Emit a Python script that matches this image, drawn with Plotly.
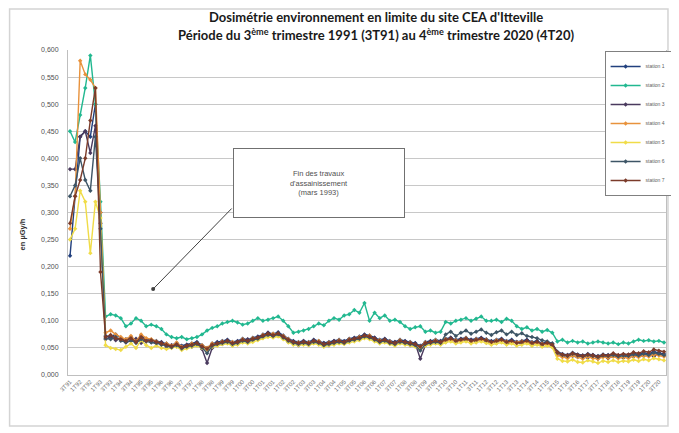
import plotly.graph_objects as go

# quarters 3T91 .. 4T20
quarters = ["3T91", "4T91"] + [f"{q}T{y % 100:02d}" for y in range(1992, 2021) for q in range(1, 5)]

station_names = ["station 1", "station 2", "station 3", "station 4", "station 5", "station 6", "station 7"]
station_colors = ["#22407E", "#22B890", "#4A3A5E", "#E8923C", "#F0DC48", "#3D5566", "#7B3B2A"]

station_1 = [.22, .33, .44, .45, .44, .50, .30,
             .072, .070, .075, .068, .066, .070, .064, .072, .066, .065,
             .063, .060, .058, .055, .059, .054, .056, .058, .061, .055,
             .050, .058, .061, .063, .065, .061, .063, .067, .065, .069,
             .071, .075, .078, .076, .079, .073, .067, .063, .061, .063,
             .061, .065, .063, .059, .061, .063, .065, .063, .067, .069,
             .071, .075, .073, .069, .065, .067, .063, .061, .065, .063,
             .061, .059, .054, .061, .063, .065, .063, .067, .069, .065,
             .067, .069, .065, .067, .069, .066, .063, .065, .067, .063,
             .065, .061, .063, .065, .061, .063, .059, .061, .058, .043,
             .039, .037, .041, .038, .036, .039, .037, .035, .038, .037,
             .039, .036, .038, .037, .040, .038, .041, .039, .043, .041, .039]
station_2 = [.45, .43, .48, .53, .59, .50, .32,
             .108, .112, .110, .105, .090, .095, .105, .100, .090, .093,
             .090, .085, .075, .070, .068, .070, .066, .068, .070, .075,
             .082, .087, .090, .095, .098, .100, .097, .093, .095, .100,
             .105, .100, .102, .105, .108, .100, .090, .078, .080, .082,
             .085, .090, .095, .092, .100, .105, .102, .110, .112, .120,
             .115, .133, .100, .115, .105, .110, .100, .102, .098, .090,
             .085, .088, .090, .080, .082, .078, .080, .098, .095, .100,
             .102, .105, .100, .104, .108, .100, .100, .102, .098, .104,
             .100, .090, .085, .088, .082, .085, .080, .083, .078, .062,
             .065, .060, .063, .060, .062, .058, .060, .062, .060, .058,
             .060, .057, .060, .058, .062, .065, .063, .064, .062, .063, .060]
station_3 = [.38, .38, .44, .45, .41, .46, .28,
             .066, .071, .064, .069, .060, .063, .067, .059, .066, .061,
             .058, .061, .052, .055, .053, .049, .056, .052, .057, .048,
             .022, .050, .060, .057, .064, .055, .062, .061, .066, .063,
             .070, .069, .078, .071, .074, .072, .061, .062, .055, .063,
             .056, .064, .058, .059, .055, .063, .060, .062, .061, .068,
             .065, .074, .068, .069, .060, .066, .058, .061, .059, .062,
             .055, .058, .030, .055, .062, .059, .063, .061, .069, .060,
             .066, .063, .065, .061, .068, .060, .062, .059, .066, .058,
             .060, .061, .057, .064, .055, .062, .054, .060, .052, .038,
             .034, .037, .035, .033, .036, .032, .037, .030, .036, .031,
             .035, .034, .032, .037, .034, .038, .035, .039, .034, .041, .035]
station_4 = [.27, .33, .58, .555, .545, .53, .30,
             .078, .082, .075, .070, .066, .072, .062, .075, .068, .066,
             .062, .056, .058, .054, .060, .052, .051, .058, .056, .055,
             .050, .058, .055, .062, .060, .061, .057, .066, .060, .068,
             .066, .074, .072, .076, .073, .072, .066, .058, .060, .057,
             .060, .059, .063, .054, .060, .057, .064, .058, .066, .064,
             .070, .070, .073, .064, .064, .061, .062, .056, .064, .058,
             .060, .054, .052, .060, .058, .064, .057, .066, .063, .064,
             .062, .068, .060, .066, .063, .065, .058, .064, .062, .062,
             .059, .060, .062, .059, .060, .057, .058, .055, .057, .036,
             .033, .031, .036, .033, .030, .034, .031, .030, .033, .032,
             .034, .031, .033, .031, .035, .033, .036, .034, .038, .036, .034]
station_5 = [.25, .27, .34, .32, .225, .32, .29,
             .055, .050, .048, .046, .052, .058, .050, .064, .055, .050,
             .054, .050, .048, .050, .052, .046, .049, .052, .054, .050,
             .046, .052, .054, .057, .058, .054, .056, .060, .058, .061,
             .064, .068, .070, .069, .071, .066, .060, .056, .055, .056,
             .055, .058, .056, .052, .055, .056, .058, .057, .060, .062,
             .064, .068, .066, .062, .058, .060, .057, .054, .058, .056,
             .055, .052, .047, .054, .056, .058, .056, .060, .062, .058,
             .060, .062, .058, .060, .062, .059, .056, .058, .060, .056,
             .058, .054, .056, .058, .054, .056, .052, .054, .051, .030,
             .026, .025, .028, .024, .023, .027, .025, .022, .026, .024,
             .027, .024, .026, .025, .028, .026, .029, .027, .031, .029, .027]
station_6 = [.33, .35, .40, .36, .34, .44, .27,
             .068, .066, .070, .063, .061, .064, .059, .066, .062, .060,
             .059, .056, .054, .051, .055, .049, .052, .054, .057, .051,
             .040, .054, .057, .059, .061, .057, .059, .063, .061, .065,
             .067, .071, .074, .072, .075, .069, .063, .059, .057, .059,
             .057, .061, .059, .055, .057, .059, .061, .059, .063, .065,
             .067, .071, .069, .065, .061, .063, .059, .057, .061, .059,
             .057, .055, .045, .057, .059, .061, .059, .075, .080, .072,
             .078, .082, .076, .080, .084, .078, .074, .079, .082, .075,
             .080, .074, .077, .072, .070, .068, .064, .062, .058, .041,
             .037, .035, .039, .036, .034, .037, .035, .033, .036, .035,
             .037, .034, .036, .035, .038, .036, .039, .037, .041, .039, .037]
station_7 = [.28, .33, .36, .40, .47, .53, .19,
             .070, .074, .068, .066, .063, .068, .061, .070, .063, .064,
             .061, .058, .056, .053, .057, .051, .054, .056, .059, .053,
             .048, .056, .058, .061, .063, .059, .061, .065, .063, .067,
             .069, .073, .076, .074, .077, .071, .065, .061, .059, .061,
             .059, .063, .061, .057, .059, .061, .063, .061, .065, .067,
             .069, .073, .071, .067, .063, .065, .061, .059, .063, .061,
             .059, .057, .052, .059, .061, .063, .061, .065, .067, .063,
             .065, .067, .063, .065, .067, .064, .061, .063, .065, .061,
             .063, .059, .061, .063, .059, .061, .057, .059, .056, .042,
             .038, .036, .040, .037, .035, .038, .036, .034, .037, .036,
             .040, .037, .039, .038, .042, .040, .044, .042, .047, .045, .043]

series = [station_1, station_2, station_3, station_4, station_5, station_6, station_7]

y_ticks = [0.0, 0.05, 0.10, 0.15, 0.20, 0.25, 0.30, 0.35, 0.40, 0.45, 0.50, 0.55, 0.60]
y_ticktext = ["0,000", "0,050", "0,100", "0,150", "0,200", "0,250", "0,300",
              "0,350", "0,400", "0,450", "0,500", "0,550", "0,600"]

title_1 = "Dosimétrie environnement en limite du site CEA d'Itteville"
title_2 = "Période du 3<sup>ème</sup> trimestre 1991 (3T91) au 4<sup>ème</sup> trimestre 2020 (4T20)"
note_text = "Fin des travaux<br>d'assainissement<br>(mars 1993)"
y_title = "en µGy/h"

fig = go.Figure()
for name, color, vals in zip(station_names, station_colors, series):
    fig.add_trace(go.Scatter(
        x=quarters, y=vals, name=name, mode="lines+markers",
        line=dict(color=color, width=1.4),
        marker=dict(color=color, size=3.4, symbol="diamond"),
    ))

# the page adds an 8px body margin; work in screen pixels and convert
OFF = 8
W, H = 679 - OFF, 433 - OFF
PL, PR, PT, PB = 68, 672, 50, 375          # plot area in screen pixels
L, R, T, B = PL - OFF, W - (PR - OFF), PT - OFF, H - (PB - OFF)
pw, ph = PR - PL, PB - PT

def px(xs):
    return (xs - PL) / pw

def py(ys):
    return (PB - ys) / ph

fig.update_layout(
    width=W, height=H,
    margin=dict(l=L, r=R, t=T, b=B, pad=0),
    paper_bgcolor="white", plot_bgcolor="white",
    font=dict(family="Liberation Sans, Arial, sans-serif", color="#404040"),
    showlegend=True,
    legend=dict(
        x=px(610), y=py(51), xanchor="left", yanchor="top",
        bgcolor="white", bordercolor="#808080", borderwidth=1,
        font=dict(size=5, color="#606060"),
        itemwidth=30, tracegroupgap=0,
    ),
    xaxis=dict(
        type="category", range=[-0.4, len(quarters) - 0.6],
        tickmode="array", tickvals=quarters[::2], ticktext=quarters[::2],
        tickangle=-45, tickfont=dict(size=6, color="#707070"),
        showgrid=False, showline=True, linecolor="#bfbfbf", linewidth=1,
        ticks="", zeroline=False,
    ),
    yaxis=dict(
        range=[0, 0.6], tickmode="array", tickvals=y_ticks, ticktext=y_ticktext,
        tickfont=dict(size=7, color="#505050"),
        ticklabelstandoff=7,
        showgrid=True, gridcolor="#c8c8c8", gridwidth=1,
        showline=True, linecolor="#bfbfbf", linewidth=1, mirror=True,
        zeroline=False, ticks="",
    ),
)

# outer chart frame
fig.add_shape(type="rect", xref="paper", yref="paper",
              x0=px(9), x1=px(674), y0=py(426), y1=py(9),
              line=dict(color="#d4d4d4", width=1.5), fillcolor="rgba(0,0,0,0)", layer="below")

# y-axis title
fig.add_annotation(text="<b>" + y_title + "</b>", xref="paper", yref="paper",
                   x=px(22), y=py(234), xanchor="center", yanchor="middle", showarrow=False,
                   textangle=-90, font=dict(size=7.5, color="#303030"))

# titles
fig.add_annotation(text="<b>" + title_1 + "</b>", xref="paper", yref="paper",
                   x=px(379), y=py(17), xanchor="center", yanchor="middle", showarrow=False,
                   font=dict(family="Lato, Carlito, sans-serif", size=13, color="#1a1a1a"))
fig.add_annotation(text="<b>" + title_2 + "</b>", xref="paper", yref="paper",
                   x=px(379), y=py(35), xanchor="center", yanchor="middle", showarrow=False,
                   font=dict(family="Lato, Carlito, sans-serif", size=13, color="#1a1a1a"))

# callout box
fig.add_annotation(text=note_text, xref="paper", yref="paper",
                   x=px(322), y=py(183), xanchor="center", yanchor="middle", showarrow=False,
                   width=168, height=66, bgcolor="white", bordercolor="#707070", borderwidth=1,
                   borderpad=1, align="center", valign="middle",
                   font=dict(size=7.5, color="#505050"))
# arrow
fig.add_annotation(text="", xref="paper", yref="paper", x=px(154), y=py(289),
                   ax=234 - 154, ay=207 - 289, axref="pixel", ayref="pixel",
                   showarrow=True, arrowhead=6, arrowsize=1, arrowwidth=1, arrowcolor="#404040")

fig.write_html("out.html")
